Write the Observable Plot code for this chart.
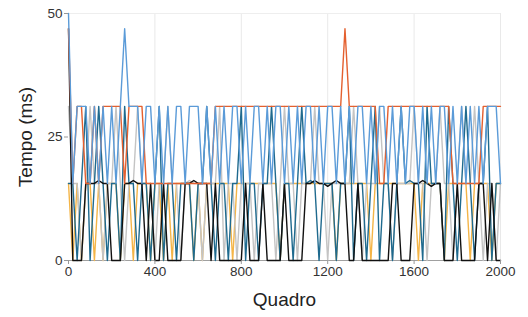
<!DOCTYPE html>
<html>
<head>
<meta charset="utf-8">
<script src="https://cdn.jsdelivr.net/npm/d3@7"></script>
<script src="https://cdn.jsdelivr.net/npm/@observablehq/plot@0.6"></script>
<style>
  html, body { margin: 0; padding: 0; background: #fff; }
  #chart svg { display: block; }
</style>
</head>
<body>
<div id="chart"></div>
<script>
// Frame step between samples (x = index * step)
const frameStep = 20;
const xTicks = [0, 400, 800, 1200, 1600, 2000];
const yTicks = [0, 25, 50];

// Frame times (ms), one value per sampled frame
const orange = [
  46.9, 15.6, 31.2, 31.2, 15.6, 15.6, 31.2, 15.6, 31.2, 31.2,
  31.2, 31.2, 31.2, 15.6, 31.2, 31.2, 31.2, 31.2, 15.6, 15.6,
  15.6, 15.6, 15.6, 15.6, 15.6, 15.6, 15.6, 15.6, 15.6, 15.6,
  15.6, 15.6, 15.6, 15.6, 31.2, 31.2, 31.2, 31.2, 31.2, 31.2,
  31.2, 31.2, 31.2, 31.2, 31.2, 31.2, 31.2, 31.2, 31.2, 31.2,
  31.2, 31.2, 31.2, 31.2, 31.2, 31.2, 31.2, 31.2, 31.2, 31.2,
  31.2, 31.2, 31.2, 31.2, 46.9, 31.2, 31.2, 31.2, 31.2, 31.2,
  31.2, 31.2, 15.6, 15.6, 31.2, 31.2, 31.2, 31.2, 31.2, 31.2,
  31.2, 31.2, 31.2, 31.2, 31.2, 31.2, 31.2, 31.2, 31.2, 15.6,
  15.6, 15.6, 15.6, 15.6, 15.6, 15.6, 31.2, 31.2, 31.2, 31.2,
  31.2
];
const blue = [
  50, 15.6, 31.2, 31.2, 31.2, 15.6, 31.2, 15.6, 31.2, 15.6,
  31.2, 15.6, 31.2, 46.9, 31.2, 31.2, 31.2, 15.6, 31.2, 31.2,
  15.6, 31.2, 15.6, 31.2, 15.6, 31.2, 31.2, 15.6, 31.2, 31.2,
  31.2, 15.6, 31.2, 15.6, 31.2, 15.6, 31.2, 15.6, 31.2, 31.2,
  15.6, 31.2, 15.6, 31.2, 31.2, 15.6, 31.2, 15.6, 31.2, 31.2,
  15.6, 31.2, 15.6, 31.2, 15.6, 31.2, 31.2, 15.6, 31.2, 15.6,
  31.2, 31.2, 15.6, 31.2, 15.6, 31.2, 15.6, 31.2, 31.2, 15.6,
  31.2, 15.6, 31.2, 31.2, 15.6, 31.2, 15.6, 31.2, 15.6, 31.2,
  31.2, 15.6, 31.2, 15.6, 31.2, 15.6, 31.2, 31.2, 15.6, 31.2,
  15.6, 31.2, 15.6, 31.2, 15.6, 31.2, 15.6, 31.2, 31.2, 31.2,
  15.6
];
const teal = [
  15.6, 15.6, 0, 15.6, 31.2, 0, 15.6, 31.2, 15.6, 0,
  15.6, 15.6, 0, 31.2, 15.6, 15.6, 0, 15.6, 15.6, 0,
  15.6, 31.2, 0, 15.6, 15.6, 0, 15.6, 15.6, 15.6, 0,
  15.6, 15.6, 31.2, 15.6, 0, 15.6, 15.6, 0, 15.6, 15.6,
  31.2, 0, 15.6, 15.6, 0, 15.6, 15.6, 31.2, 15.6, 0,
  15.6, 15.6, 0, 15.6, 31.2, 15.6, 16.2, 15.6, 0, 15.6,
  15.6, 15.6, 0, 15.6, 15.6, 31.2, 0, 15.6, 15.6, 0,
  15.6, 31.2, 0, 15.6, 15.6, 0, 15.6, 31.2, 15.6, 16.2,
  15.6, 15.6, 0, 31.2, 15.6, 15.6, 15.6, 0, 31.2, 15.6,
  0, 15.6, 31.2, 15.6, 0, 15.6, 15.6, 31.2, 0, 15.6,
  15.6
];
const gray = [
  31.2, 15.6, 15.6, 0, 15.6, 31.2, 15.6, 15.6, 0, 15.6,
  15.6, 31.2, 15.6, 0, 15.6, 15.6, 31.2, 15.6, 15.6, 15.6,
  0, 15.6, 15.6, 31.2, 15.6, 15.6, 0, 15.6, 16.2, 15.6,
  15.6, 0, 15.6, 15.6, 15.6, 31.2, 0, 15.6, 15.6, 0,
  15.6, 15.6, 15.6, 0, 15.6, 15.6, 15.6, 15.6, 0, 15.6,
  31.2, 15.6, 15.6, 0, 15.6, 15.6, 15.6, 31.2, 15.6, 15.6,
  0, 15.6, 15.6, 15.6, 15.6, 15.6, 31.2, 15.6, 0, 15.6,
  15.6, 15.6, 31.2, 15.6, 15.6, 0, 15.6, 15.6, 15.6, 15.6,
  31.2, 15.6, 15.6, 0, 15.6, 15.6, 31.2, 15.6, 15.6, 0,
  15.6, 31.2, 15.6, 15.6, 31.2, 15.6, 0, 15.6, 15.6, 0,
  15.6
];
const gold = [
  15.6, 0, 15.6, 0, 15.6, 15.6, 0, 15.6, 0, 15.6,
  15.6, 15.6, 0, 15.6, 15.6, 0, 15.6, 15.6, 15.6, 0,
  15.6, 15.6, 0, 15.6, 0, 15.6, 15.6, 15.6, 15.6, 0,
  15.6, 0, 15.6, 15.6, 15.6, 15.6, 15.6, 15.6, 0, 15.6,
  15.6, 15.6, 15.6, 15.6, 15.6, 15.6, 15.6, 15.6, 15.6, 0,
  15.6, 15.6, 15.6, 15.6, 15.6, 15.6, 15.6, 15.6, 15.6, 15.6,
  15.6, 15.6, 0, 15.6, 15.6, 15.6, 15.6, 15.6, 15.6, 15.6,
  0, 15.6, 15.6, 15.6, 15.6, 15.6, 15.6, 15.6, 15.6, 15.6,
  15.6, 0, 15.6, 15.6, 15.6, 15.6, 15.6, 0, 15.6, 15.6,
  15.6, 15.6, 15.6, 0, 15.6, 15.6, 15.6, 15.6, 0, 15.6,
  15.6
];
const black = [
  46.9, 0, 0, 0, 15.6, 15.6, 15.6, 16.2, 15.6, 15.6,
  0, 0, 0, 15.6, 15.6, 16.2, 15.6, 15.6, 0, 15.6,
  0, 0, 15.6, 0, 0, 0, 0, 15.6, 15.6, 16.2,
  15.6, 15.6, 15.6, 0, 15.6, 0, 0, 0, 0, 0,
  0, 15.6, 0, 0, 0, 15.6, 0, 0, 0, 0,
  15.6, 0, 0, 0, 0, 15.6, 15.6, 16.2, 15.6, 15.6,
  15.0, 15.6, 16.2, 15.6, 15.6, 0, 0, 15.6, 0, 0,
  0, 0, 0, 0, 0, 15.6, 15.6, 0, 0, 0,
  15.6, 15.6, 16.2, 15.6, 15.0, 15.6, 15.6, 0, 0, 0,
  15.6, 0, 0, 0, 0, 15.6, 15.6, 0, 15.6, 0,
  0
];

const seriesNames = ["S-gold", "S-gray", "S-teal", "S-black", "S-orange", "S-blue"];
const seriesValues = [gold, gray, teal, black, orange, blue];
const seriesColors = ["#F4B548", "#C4C4C4", "#1F6A8E", "#111111", "#E4602F", "#5B9BD8"];

const rows = [];
seriesNames.forEach((name, s) => {
  seriesValues[s].forEach((v, i) => rows.push({series: name, frame: i * frameStep, ms: v}));
});

const font = "'Liberation Sans', Arial, Helvetica, sans-serif";

const chart = Plot.plot({
  width: 528,
  height: 317,
  marginLeft: 68,
  marginRight: 28,
  marginTop: 13,
  marginBottom: 57,
  style: {fontFamily: font, fontSize: "13.5px", color: "#333", background: "#fff"},
  x: {domain: [0, 2000]},
  y: {domain: [0, 50]},
  color: {type: "ordinal", domain: seriesNames, range: seriesColors},
  marks: [
    Plot.ruleX(xTicks.slice(1), {stroke: "#e9e9e9", strokeWidth: 1}),
    Plot.ruleY([50], {stroke: "#eeeeee", strokeWidth: 1}),
    Plot.ruleY([0], {stroke: "#a0a0a0", strokeWidth: 1}),
    Plot.lineY(rows, {x: "frame", y: "ms", z: "series", stroke: "series", strokeWidth: 1.4}),
    Plot.axisX({ticks: xTicks, tickFormat: d3.format("d"), tickSize: 4, tickPadding: 2, stroke: "#999",
      label: "Quadro", labelAnchor: "center", labelArrow: "none", labelOffset: 45, fontSize: 13.5}),
    Plot.axisY({ticks: yTicks, tickFormat: d3.format("d"), tickSize: 4, tickPadding: 2, stroke: "#999",
      label: "Tempo (ms)", labelAnchor: "center", labelArrow: "none", labelOffset: 50, fontSize: 13.5})
  ]
});

// enlarge axis labels
chart.querySelectorAll("g[aria-label='x-axis label'] text, g[aria-label='y-axis label'] text")
  .forEach(t => { t.setAttribute("font-size", "19"); t.style.fill = "#222"; });

document.getElementById("chart").appendChild(chart);
</script>
</body>
</html>
